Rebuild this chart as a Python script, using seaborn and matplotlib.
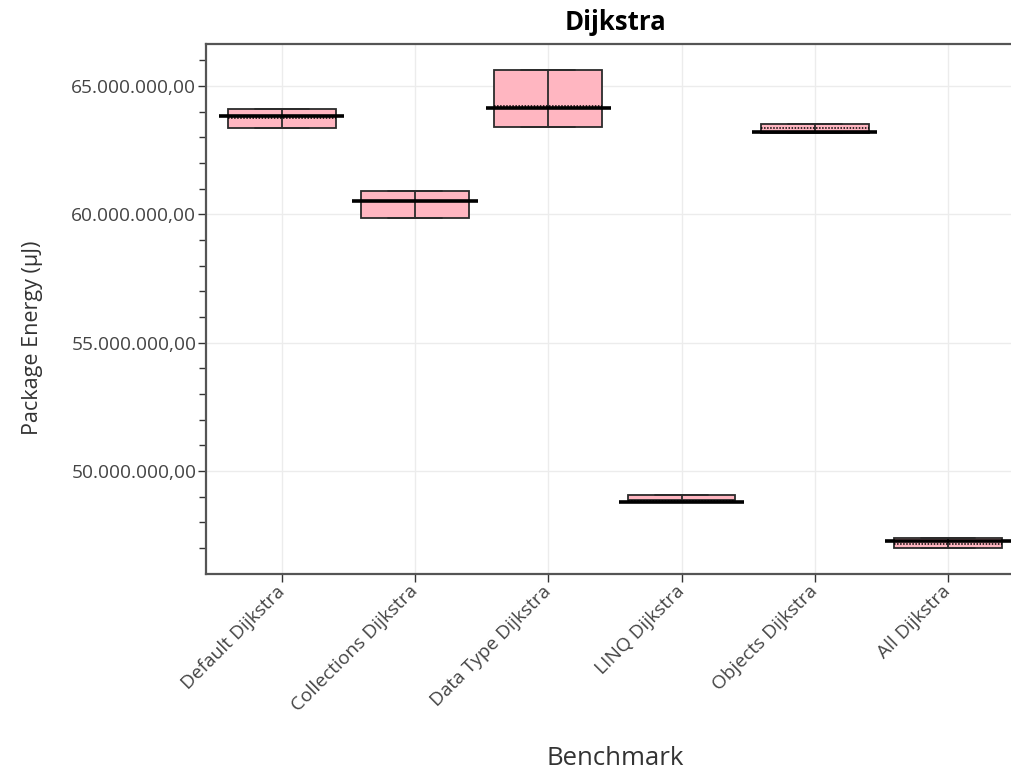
import numpy as np
import pandas as pd
import matplotlib
matplotlib.use("Agg")
import matplotlib.pyplot as plt
import seaborn as sns
from matplotlib.ticker import FuncFormatter, MultipleLocator

# Package energy per benchmark variant (µJ)
benchmarks = ["Default Dijkstra", "Collections Dijkstra", "Data Type Dijkstra",
              "LINQ Dijkstra", "Objects Dijkstra", "All Dijkstra"]
q1 = [63.38e6, 59.85e6, 63.39e6, 48.87e6, 63.16e6, 46.99e6]
median = [63.83e6, 60.52e6, 64.13e6, 48.81e6, 63.22e6, 47.29e6]
q3 = [64.09e6, 60.92e6, 65.62e6, 49.07e6, 63.52e6, 47.40e6]
mean = [63.75e6, 60.52e6, 64.23e6, 48.83e6, 63.35e6, 47.15e6]

title = "Dijkstra"
x_label = "Benchmark"
y_label = "Package Energy (µJ)"

sns.set_theme(style="white")
plt.rcParams["font.family"] = ["Open Sans", "DejaVu Sans"]

# Five-number samples per benchmark (whiskers sit on the box edges)
rows = []
for name, lo, md, hi in zip(benchmarks, q1, median, q3):
    for v in (lo, lo, md, hi, hi):
        rows.append({"Benchmark": name, "Energy": v})
df = pd.DataFrame(rows)

fig = plt.figure(figsize=(10.11, 7.76), dpi=100)
ax = fig.add_axes([206 / 1011, 1 - 573.5 / 776, 818 / 1011, 530 / 776])

ink = "#2b2b2b"
sns.boxplot(data=df, x="Benchmark", y="Energy", order=benchmarks, ax=ax,
            width=0.81, color="#ffb6c1", saturation=1, linecolor=ink,
            linewidth=1.3, showfliers=False,
            medianprops={"visible": False})

pos = np.arange(len(benchmarks))
# center line through each box
ax.vlines(pos, q1, q3, color=ink, lw=1.3, zorder=3)
# mean (dotted) and median (heavy) lines
ax.hlines(mean, pos - 0.405, pos + 0.405, color="black", lw=1.1,
          linestyles=(0, (1, 1)), zorder=4)
ax.hlines(median, pos - 0.47, pos + 0.47, color="black", lw=2.6, zorder=5)

ax.set_xlim(-0.568, 5.57)
ax.set_ylim(46.01e6, 66.66e6)

ax.yaxis.set_major_locator(MultipleLocator(5e6))
ax.yaxis.set_minor_locator(MultipleLocator(1e6))


def euro(v, _):
    s = f"{v:,.2f}"
    return s.replace(",", "X").replace(".", ",").replace("X", ".")


ax.yaxis.set_major_formatter(FuncFormatter(euro))

ax.grid(True, which="major", color="#ececec", lw=1)
ax.set_axisbelow(True)

for side in ("left", "bottom", "top"):
    ax.spines[side].set_visible(True)
    ax.spines[side].set_color("#555555")
    ax.spines[side].set_linewidth(1.6)
ax.spines["right"].set_visible(False)

ax.tick_params(axis="both", which="both", direction="out", colors="#333333",
               left=True, bottom=True)
ax.tick_params(axis="y", which="major", length=6, width=1, labelsize=13.8,
               labelcolor="#444444", pad=1)
ax.tick_params(axis="y", which="minor", length=5, width=1)
ax.tick_params(axis="x", which="major", length=6, width=1, labelsize=13.8,
               labelcolor="#444444", pad=5)
plt.setp(ax.get_xticklabels(), rotation=45, ha="right", va="center",
         rotation_mode="anchor")

ax.set_xlabel(x_label, fontsize=18.5, color="#333333")
ax.xaxis.set_label_coords(0.5, -0.325)
ax.xaxis.label.set_va("top")
ax.set_ylabel(y_label, fontsize=15.5, color="#333333")
ax.yaxis.set_label_coords(-0.199, 0.444)
ax.set_title(title, fontsize=18.5, fontweight="bold", color="black", pad=9.7)

fig.savefig("out.png", dpi=100)
